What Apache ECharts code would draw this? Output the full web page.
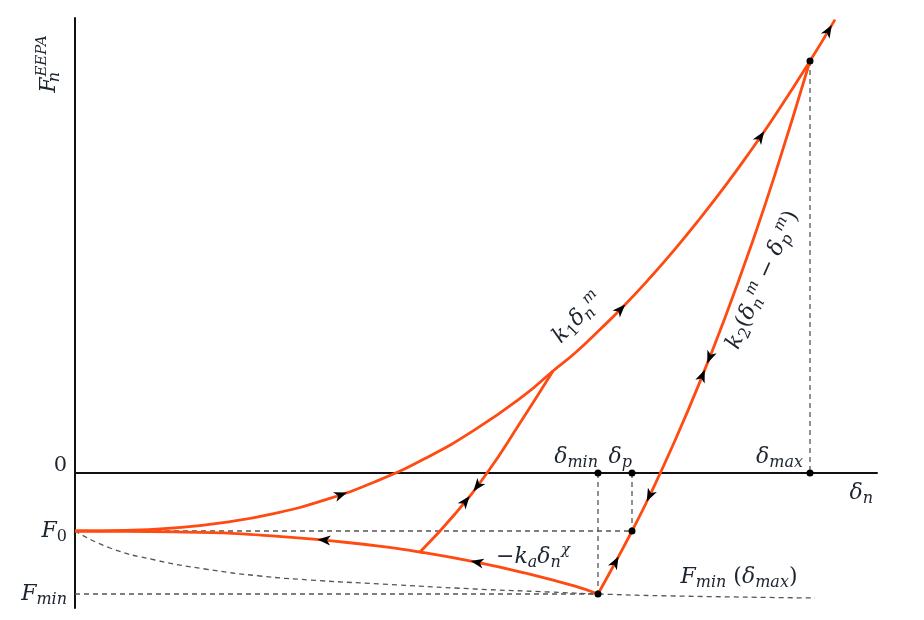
<!DOCTYPE html>
<html><head><meta charset="utf-8">
<script src="https://cdn.jsdelivr.net/npm/echarts@6/dist/echarts.min.js"></script>
<style>html,body{margin:0;padding:0;background:#fff}#c{width:924px;height:620px}</style>
</head><body><div id="c"></div>
<script>
// ---- key levels (schematic units) ----
const dMin = 5.23, dP = 5.57, dMax = 7.35;
const F0 = -0.58, Fmin = -1.21, Fmax = 4.12;

// ---- curves ----
const loadX = [0, 0.5, 1, 1.5, 2, 2.5, 3, 3.5, 4, 4.5, 4.78, 5, 5.25, 5.5, 5.75, 6, 6.25, 6.5, 6.75, 7, 7.35, 7.6];
const loadY = [-0.58, -0.575, -0.549, -0.494, -0.403, -0.269, -0.088, 0.145, 0.434, 0.784, 1.02, 1.20, 1.435, 1.683, 1.952, 2.239, 2.545, 2.868, 3.212, 3.576, 4.12, 4.534];
const unloadX = [5.23, 5.40, 5.57, 5.75, 6.00, 6.25, 6.50, 6.75, 7.00, 7.35];
const unloadY = [-1.21, -0.90, -0.58, -0.22, 0.325, 0.914, 1.553, 2.242, 2.986, 4.12];
const adhX = [0, 1, 2, 3, 3.45, 4, 4.5, 5, 5.23];
const adhY = [-0.58, -0.588, -0.631, -0.726, -0.79, -0.889, -1.0, -1.132, -1.21];
const branchX = [3.45, 3.8, 4.12, 4.45, 4.78];
const branchY = [-0.79, -0.41, 0, 0.50, 1.02];
const envX = [0, 0.35, 0.8, 1.3, 1.85, 2.35, 3.05, 4.0, 4.75, 5.23, 6.0, 7.4];
const envY = [-0.58, -0.75, -0.87, -0.96, -1.03, -1.07, -1.11, -1.16, -1.19, -1.21, -1.23, -1.25];

// arrows: [x, y, xAhead, yAhead] (direction of travel)
const arrows = [
  [2.65, -0.221, 2.75, -0.186],
  [5.45, 1.63, 5.55, 1.735],
  [6.85, 3.354, 6.95, 3.503],
  [7.53, 4.416, 7.6, 4.534],
  [4.03, -0.895, 3.9, -0.869],
  [2.5, -0.671, 2.4, -0.662],
  [4.03, -0.123, 3.95, -0.227],
  [3.90, -0.29, 3.98, -0.189],
  [6.35, 1.164, 6.25, 0.914],
  [6.27, 0.964, 6.37, 1.215],
  [5.75, -0.218, 5.65, -0.422],
  [5.40, -0.90, 5.5, -0.714]
];
const dots = [[dMax, Fmax], [dMin, 0], [dP, 0], [dMax, 0], [dP, F0], [dMin, Fmin]];

const xTicks = [dMin, dP, dMax];
const xTickLabels = ['{m|δ}{s|min}', '{m|δ}{s|p}', '{m|δ}{s|max}{g|}'];
const yTicks = [Fmin, F0, 0];
const yTickLabels = ['{m|F}{s|min}', '{m|F}{s0|0}', '{z|0}'];

const Y_MIN = -1.35, Y_MAX = 4.55;
const GRID = {left: 75, right: 47, top: 18, bottom: 12};
const gridH = 620 - GRID.top - GRID.bottom;
const xAxisOffset = -((0 - Y_MIN) / (Y_MAX - Y_MIN)) * gridH;

const zip = (a, b) => a.map((v, i) => [v, b[i]]);

const FF = '"DejaVu Serif", "Liberation Serif", serif';
const TXT = '#1c2430';
const RED = '#ff4a12';
const rich = {
  m: {fontFamily: FF, fontStyle: 'italic', fontSize: 22, color: TXT, lineHeight: 28, verticalAlign: 'middle'},
  r: {fontFamily: FF, fontSize: 22, color: TXT, lineHeight: 28, verticalAlign: 'middle'},
  z: {fontFamily: FF, fontSize: 21, color: TXT, lineHeight: 28, verticalAlign: 'middle', padding: [0, 0, 14, 0]},
  s: {fontFamily: FF, fontStyle: 'italic', fontSize: 16, color: TXT, lineHeight: 20, verticalAlign: 'bottom'},
  s0: {fontFamily: FF, fontSize: 16, color: TXT, lineHeight: 20, verticalAlign: 'bottom'},
  sn: {fontFamily: FF, fontStyle: 'italic', fontSize: 16, color: TXT, lineHeight: 20, verticalAlign: 'bottom', width: 1, align: 'left'},
  su: {fontFamily: FF, fontStyle: 'italic', fontSize: 15, color: TXT, lineHeight: 14, verticalAlign: 'top'},
  g: {width: 7}
};

const lineS = (name, data) => ({
  name, type: 'line', data, symbol: 'none', silent: true, z: 3,
  smooth: 0.5,
  lineStyle: {color: RED, width: 2.8}
});
const dashS = (name, data, smooth) => ({
  name, type: 'line', data, symbol: 'none', silent: true, z: 2,
  smooth: smooth ? 0.5 : false,
  lineStyle: {color: '#555', width: 1.3, type: [5, 4]}
});

const chart = echarts.init(document.getElementById('c'), null, {renderer: 'canvas'});
chart.setOption({
  animation: false,
  backgroundColor: '#fff',
  grid: GRID,
  xAxis: {
    type: 'value', min: 0, max: 8.02, offset: xAxisOffset,
    splitLine: {show: false}, axisTick: {show: false},
    axisLine: {onZero: false, lineStyle: {color: '#111', width: 2}},
    axisLabel: {
      inside: true, margin: 2, customValues: xTicks, align: 'right', hideOverlap: false,
      formatter: v => xTickLabels[xTicks.indexOf(v)] || '', rich
    },
    name: '{m|δ}{s|n}', nameLocation: 'end', nameGap: -4,
    nameTextStyle: {align: 'right', verticalAlign: 'top', padding: [6, 0, 0, 0], rich}
  },
  yAxis: {
    type: 'value', min: Y_MIN, max: Y_MAX,
    splitLine: {show: false}, axisTick: {show: false},
    axisLine: {show: true, onZero: false, lineStyle: {color: '#111', width: 2}},
    axisLabel: {
      margin: 8, customValues: yTicks, hideOverlap: false,
      formatter: v => yTickLabels[yTicks.indexOf(v)] || '', rich
    },
    name: '{m|F}{sn|n}{su|EEPA}', nameLocation: 'end', nameRotate: 90, nameGap: -46,
    nameTextStyle: {align: 'center', verticalAlign: 'bottom', padding: [0, 0, 12, 0], rich}
  },
  series: [
    dashS('F0 level', [[0, F0], [dP, F0]]),
    dashS('Fmin level', [[0, Fmin], [dMin, Fmin]]),
    dashS('delta min', [[dMin, 0], [dMin, Fmin]]),
    dashS('delta p', [[dP, 0], [dP, F0]]),
    dashS('delta max', [[dMax, Fmax], [dMax, 0]]),
    dashS('Fmin(delta max)', zip(envX, envY), true),
    lineS('loading', zip(loadX, loadY)),
    lineS('unloading', zip(unloadX, unloadY)),
    lineS('adhesion', zip(adhX, adhY)),
    lineS('reloading branch', zip(branchX, branchY)),
    {
      type: 'custom', name: 'arrows', data: arrows, z: 8, silent: true,
      renderItem(params, api) {
        const p = api.coord([api.value(0), api.value(1)]);
        const q = api.coord([api.value(2), api.value(3)]);
        const ang = Math.atan2(q[1] - p[1], q[0] - p[0]);
        return {
          type: 'polygon', x: p[0], y: p[1], rotation: -ang,
          shape: {points: [[7.5, 0], [-5.5, -5], [-2, 0], [-5.5, 5]]},
          style: {fill: '#000'}
        };
      }
    },
    {
      type: 'scatter', name: 'points', data: dots, symbol: 'circle', symbolSize: 7,
      itemStyle: {color: '#000', opacity: 1}, z: 9, silent: true
    },
    {
      type: 'scatter', name: 'annotations', symbolSize: 1,
      itemStyle: {color: 'rgba(0,0,0,0)', opacity: 1}, z: 10, silent: true,
      label: {show: true, position: 'inside', rich, opacity: 1},
      labelLayout: {hideOverlap: false},
      data: [
        {value: [5.03, 1.55], label: {formatter: '{m|k}{s0|1}{m|δ}{s|n}{su|m}', rotate: 46}},
        {value: [6.88, 1.93], label: {formatter: '{m|k}{s0|2}{r|(}{m|δ}{s|n}{su|m}{r| − }{m|δ}{s|p}{su|m}{r|)}', rotate: 66}},
        {value: [4.58, -0.84], label: {formatter: '{r|−}{m|k}{s|a}{m|δ}{s|n}{su|χ}'}},
        {value: [6.64, -1.04], label: {formatter: '{m|F}{s|min}{r| (}{m|δ}{s|max}{r|)}'}}
      ]
    }
  ]
});
</script>
</body></html>
